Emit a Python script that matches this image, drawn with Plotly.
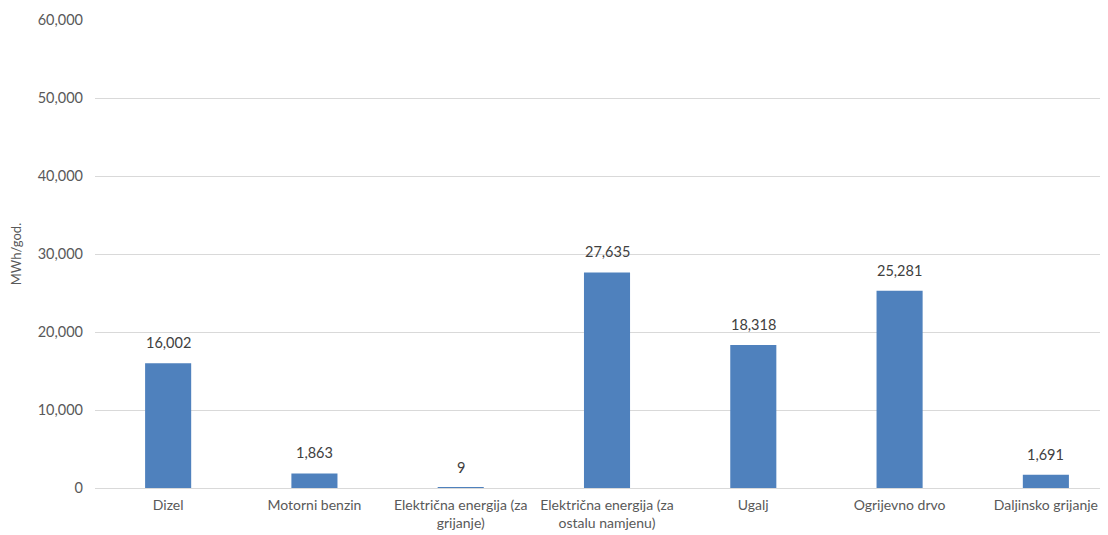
import plotly.graph_objects as go

categories = ["Dizel", "Motorni benzin", "Električna energija (za<br>grijanje)",
              "Električna energija (za<br>ostalu namjenu)", "Ugalj", "Ogrijevno drvo",
              "Daljinsko grijanje"]
values = [16002, 1863, 9, 27635, 18318, 25281, 1691]
y_ticks = [0, 10000, 20000, 30000, 40000, 50000, 60000]
y_title = "MWh/god."

FONT = "Lato"
GREY = "#595959"

fig = go.Figure()
fig.add_trace(go.Bar(
    x=list(range(len(categories))), y=values,
    marker=dict(color="#4F81BD", line=dict(width=0)),
    width=0.315,
))

for i, v in enumerate(values):
    fig.add_annotation(x=i, y=v, text=f"{v:,}", showarrow=False,
                       yanchor="bottom", yshift=10,
                       font=dict(family=FONT, size=14.5, color="#404040"))

fig.update_layout(
    width=1100, height=527,
    margin=dict(l=87, r=8, t=12, b=47),
    paper_bgcolor="white", plot_bgcolor="white",
    showlegend=False,
    font=dict(family=FONT, size=14, color=GREY),
    xaxis=dict(
        tickmode="array", tickvals=list(range(len(categories))), ticktext=categories,
        range=[-0.5, 6.37], showgrid=False, zeroline=False, showline=False,
        ticks="", automargin=False, ticklabelstandoff=7,
        tickfont=dict(family=FONT, size=14, color=GREY),
    ),
    yaxis=dict(
        range=[0, 60000], tickvals=y_ticks, tickformat=",",
        showgrid=True, gridcolor="#D9D9D9", gridwidth=1,
        zeroline=True, zerolinecolor="#D9D9D9", zerolinewidth=1,
        showline=False, ticks="", ticklen=0, automargin=False, ticklabelstandoff=11,
        tickfont=dict(family=FONT, size=14.5, color=GREY),
        title=dict(text=y_title, font=dict(family=FONT, size=13, color=GREY), standoff=13),
    ),
)

fig.write_html("out.html")
